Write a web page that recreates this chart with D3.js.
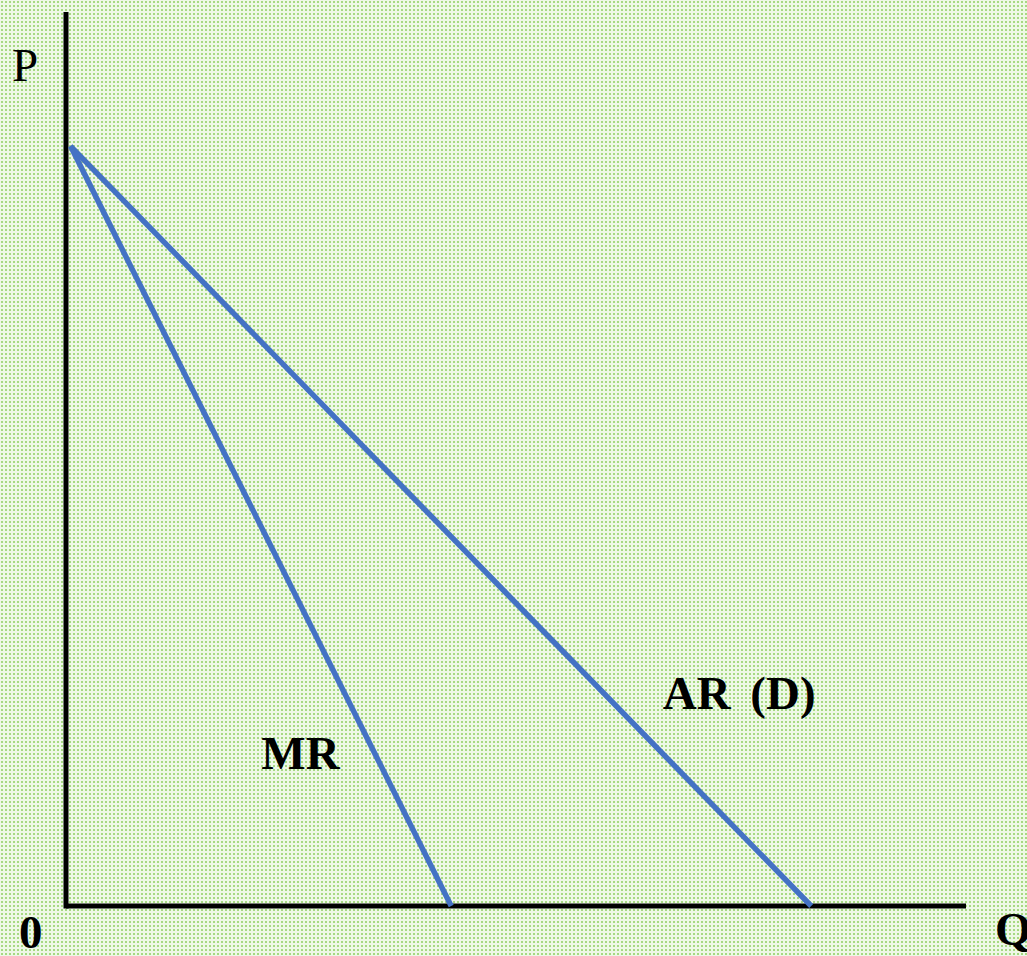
<!DOCTYPE html>
<html>
<head>
<meta charset="utf-8">
<script src="https://cdn.jsdelivr.net/npm/d3@7"></script>
<style>
  html, body { margin: 0; padding: 0; overflow: hidden; }
  svg { display: block; }
</style>
</head>
<body>
<div class="chart"></div>
<script>
// revenue curves (quantity, price)
var arPoints = [[0.05, 8.5], [8.28, 0]];
var mrPoints = [[0.05, 8.5], [4.28, 0]];
var curveNames = ["AR (D)", "MR"];
var labelSpots = [[6.63, 2.2], [2.17, 1.53]];
var axisNames = ["P", "Q", "0"];

var svgWidth = 1027, svgHeight = 956;

var svg = d3.select(".chart")
    .append("svg")
    .attr("width", svgWidth)
    .attr("height", svgHeight);

// dotted green background
var defs = svg.append("defs");
var pat = defs.append("pattern")
    .attr("id", "dots")
    .attr("width", 4)
    .attr("height", 4)
    .attr("patternUnits", "userSpaceOnUse");
pat.append("rect").attr("width", 4).attr("height", 4).attr("fill", "#eef8e6");
pat.append("rect").attr("x", 1).attr("y", 1).attr("width", 2).attr("height", 2).attr("fill", "#a6d982");

svg.append("rect")
    .attr("width", svgWidth)
    .attr("height", svgHeight)
    .attr("fill", "url(#dots)");

// scales
var x = d3.scaleLinear().domain([0, 10]).range([66, 966]);
var y = d3.scaleLinear().domain([0, 10]).range([906, 12]);

// axes as plain lines
svg.append("line")
    .attr("x1", x(0)).attr("x2", x(0))
    .attr("y1", y(10)).attr("y2", y(0) + 2.5)
    .attr("stroke", "#000").attr("stroke-width", 5);
svg.append("line")
    .attr("x1", x(0)).attr("x2", x(10))
    .attr("y1", y(0)).attr("y2", y(0))
    .attr("stroke", "#000").attr("stroke-width", 5);

var line = d3.line()
    .x(d => x(d[0]))
    .y(d => y(d[1]));

svg.selectAll("path.curve")
    .data([arPoints, mrPoints])
    .enter()
    .append("path")
    .attr("class", "curve")
    .attr("d", line)
    .attr("fill", "none")
    .attr("stroke", "#4472c4")
    .attr("stroke-width", 5.5);

svg.selectAll("text.curveLabel")
    .data(curveNames)
    .enter()
    .append("text")
    .attr("class", "curveLabel")
    .attr("x", (d, i) => x(labelSpots[i][0]))
    .attr("y", (d, i) => y(labelSpots[i][1]))
    .attr("font-family", "Liberation Serif, Times New Roman, serif")
    .attr("font-weight", "bold")
    .attr("font-size", 47)
    .attr("word-spacing", 8)
    .attr("fill", "#000")
    .text(d => d);

// axis letters
svg.append("text")
    .attr("x", 12).attr("y", 81)
    .attr("font-family", "Liberation Serif, Times New Roman, serif")
    .attr("font-size", 47)
    .text(axisNames[0]);
svg.append("text")
    .attr("x", 995).attr("y", 945)
    .attr("font-family", "Liberation Serif, Times New Roman, serif")
    .attr("font-weight", "bold")
    .attr("font-size", 47)
    .text(axisNames[1]);
svg.append("text")
    .attr("x", 19).attr("y", 948)
    .attr("font-family", "Liberation Serif, Times New Roman, serif")
    .attr("font-weight", "bold")
    .attr("font-size", 47)
    .text(axisNames[2]);
</script>
</body>
</html>
